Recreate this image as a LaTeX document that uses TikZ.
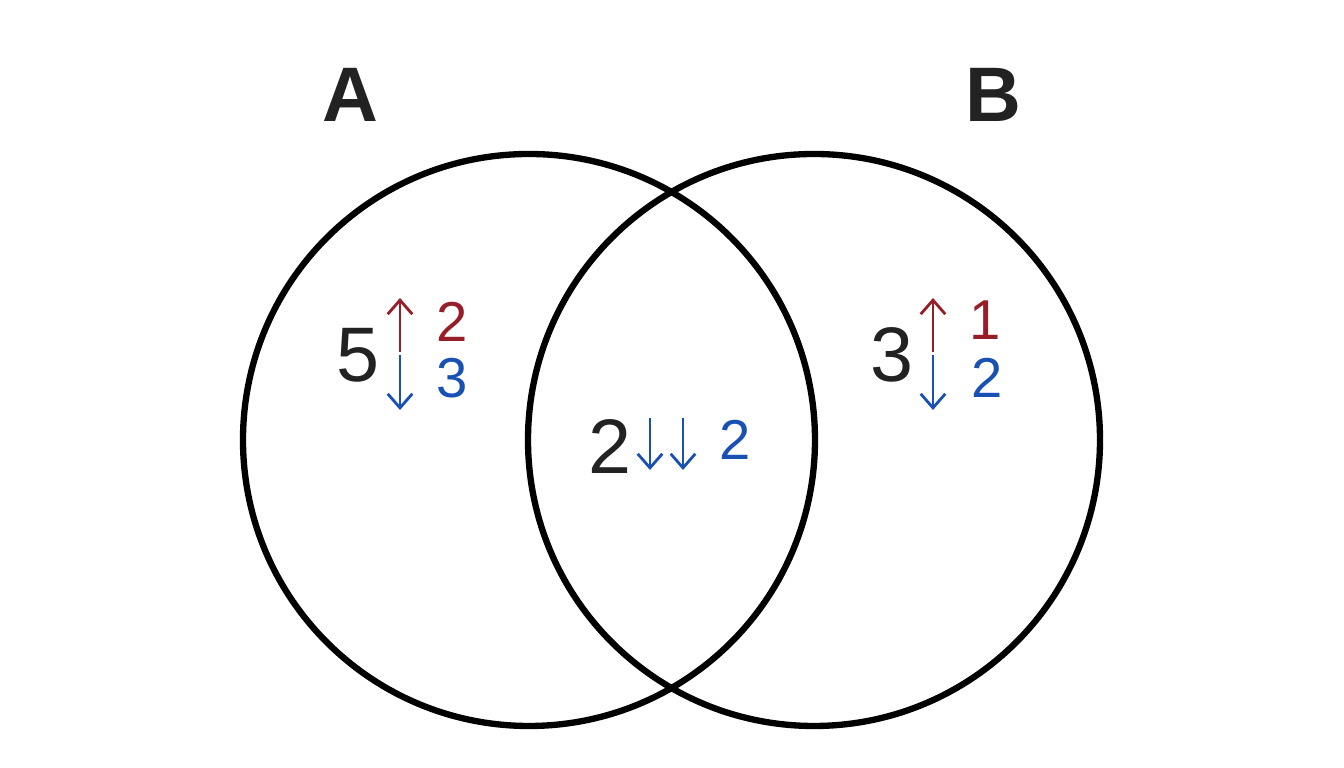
\documentclass[tikz,border=0pt]{standalone}
\usepackage{fontspec}
\setmainfont{Liberation Sans}
\usetikzlibrary{arrows.meta}
\definecolor{upred}{RGB}{150,30,40}
\definecolor{downblue}{RGB}{25,80,180}
\definecolor{ink}{RGB}{34,34,34}
\tikzset{
  ring/.style={black, line width=1.8pt},
  big/.style={ink, font=\fontsize{22}{22}\selectfont},
  small/.style={font=\fontsize{16}{16}\selectfont},
  uparr/.style={upred, line width=0.8pt, -{Straight Barb[length=4pt,width=7pt]}},
  dnarr/.style={downblue, line width=0.8pt, -{Straight Barb[length=4pt,width=7pt]}}
}
\begin{document}
\begin{tikzpicture}
        \useasboundingbox (0,0) rectangle (13.44,7.68);
        \draw[ring] (5.29,3.28) circle (2.86);
        \draw[ring] (8.14,3.28) circle (2.86);
        \node[ink, font=\bfseries\fontsize{22}{22}\selectfont] (labA) at (3.50,6.73) {A};
        \node[ink, font=\bfseries\fontsize{22}{22}\selectfont] (labB) at (9.93,6.73) {B};
        % left set
        \node[big] (nA) at (3.58,4.13) {5};
        \draw[uparr] (4.00,4.16) -- (4.00,4.70);
        \draw[dnarr] (4.00,4.13) -- (4.00,3.58);
        \node[small, upred] (uA) at (4.52,4.46) {2};
        \node[small, downblue] (dA) at (4.52,3.90) {3};
        % middle
        \node[big] (nAB) at (6.10,3.21) {2};
        \draw[dnarr] (6.50,3.50) -- (6.50,2.98);
        \draw[dnarr] (6.83,3.50) -- (6.83,2.98);
        \node[small, downblue] (dAB) at (7.35,3.28) {2};
        % right set
        \node[big] (nB) at (8.92,4.13) {3};
        \draw[uparr] (9.33,4.16) -- (9.33,4.70);
        \draw[dnarr] (9.33,4.13) -- (9.33,3.58);
        \node[small, upred] (uB) at (9.85,4.48) {1};
        \node[small, downblue] (dB) at (9.87,3.90) {2};
\end{tikzpicture}
\end{document}
